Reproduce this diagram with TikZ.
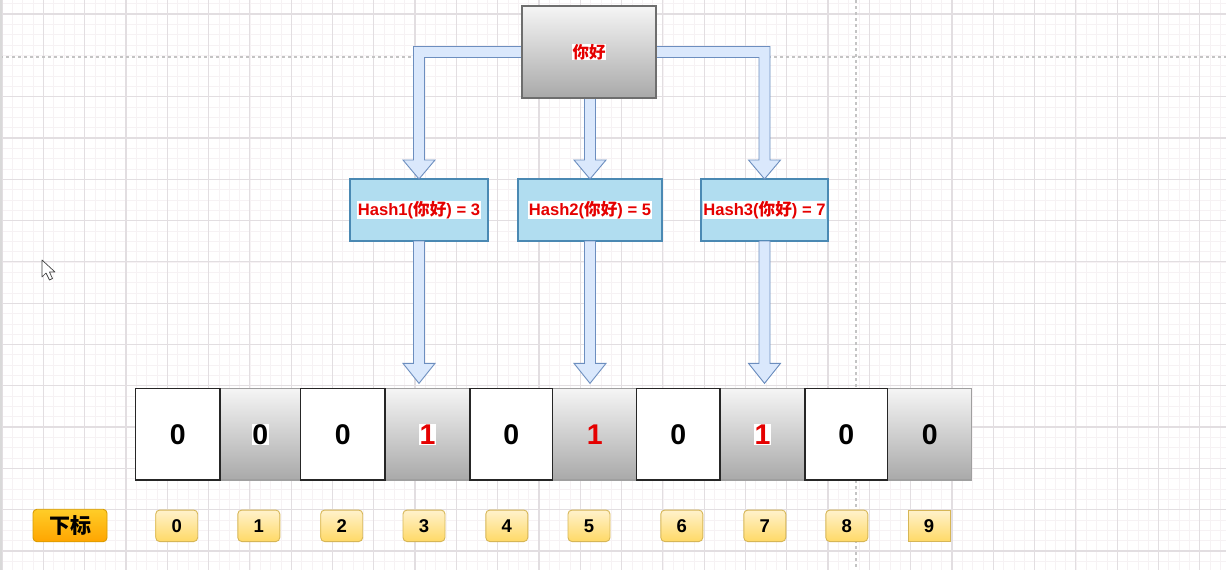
\documentclass[tikz,border=0pt]{standalone}
\usepackage{fontspec}
\setmainfont{Liberation Sans}
\newfontfamily\cjk{Noto Sans CJK SC}
\usetikzlibrary{calc}
\definecolor{gminor}{HTML}{F6F2F4}
\definecolor{gmajor}{HTML}{E2DEE1}
\definecolor{gdash}{HTML}{C4C4C4}
\definecolor{bfill}{HTML}{DAE8FC}
\definecolor{bdraw}{HTML}{6C8EBF}
\definecolor{hfill}{HTML}{B1DDF0}
\definecolor{hdraw}{HTML}{4A89B3}
\definecolor{gtop}{HTML}{F5F5F5}
\definecolor{gbot}{HTML}{A9A9A9}
\definecolor{gdraw}{HTML}{6E6E6E}
\definecolor{ytop}{HTML}{FFF2CC}
\definecolor{ybot}{HTML}{FFD966}
\definecolor{ydraw}{HTML}{D6B656}
\definecolor{otop}{HTML}{FFCD28}
\definecolor{obot}{HTML}{FFA500}
\definecolor{odraw}{HTML}{D79B00}
\definecolor{redtxt}{HTML}{E50000}
\newcommand\hlt[1]{{\setlength{\fboxsep}{0.6pt}\colorbox{white}{#1}}}
\newcommand\nh{{\cjk\bfseries 你好}}
\begin{document}
\begin{tikzpicture}[x=1pt,y=-1pt,
  nodebase/.style={inner sep=0pt, outer sep=0pt, font=\bfseries, align=center},
  graybox/.style={nodebase, draw=gdraw, top color=gtop, bottom color=gbot, line width=1.2pt},
  hashbox/.style={nodebase, draw=hdraw, fill=hfill, line width=1.2pt, minimum height=62, text=redtxt, font=\bfseries\fontsize{16.6}{18}\selectfont},
  cellwhite/.style={nodebase, draw=black!85, fill=white, line width=1.2pt, minimum height=91.7, font=\bfseries\fontsize{28.5}{30}\selectfont},
  cellgray/.style={graybox, draw=gray!75, minimum height=91.7, font=\bfseries\fontsize{28.5}{30}\selectfont},
  idxbox/.style={nodebase, draw=ydraw, top color=ytop, bottom color=ybot, rounded corners=4pt, minimum width=42, minimum height=31.5, line width=0.9pt, font=\bfseries\fontsize{18.5}{20}\selectfont},
  labbox/.style={nodebase, draw=odraw, top color=otop, bottom color=obot, rounded corners=4pt, line width=0.9pt, font=\bfseries\fontsize{21}{23}\selectfont},
  blockarrow/.style={fill=bfill, draw=bdraw, line width=0.9pt, line join=miter},
  minorline/.style={gminor, line width=0.5pt},
  majorline/.style={gmajor, line width=1.2pt},
  pagebreak/.style={gdash, line width=1.1pt, dash pattern=on 3pt off 3pt}]
\useasboundingbox (0,0) rectangle (1226,570);
\fill[white] (0,0) rectangle (1226,570);
% grid
\foreach \i in {0,...,119} \draw[minorline] (2+\i*10.325,0) -- (2+\i*10.325,570);
\foreach \i in {0,...,55} \draw[minorline] (0,3.675+\i*10.325) -- (1226,3.675+\i*10.325);
\foreach \i in {0,...,29} \draw[majorline] (2+\i*41.3,0) -- (2+\i*41.3,570);
\foreach \i in {0,2,3,...,13} \draw[majorline] (0,14+\i*41.3) -- (1226,14+\i*41.3);
\draw[pagebreak] (0,57) -- (1226,57);
\draw[pagebreak] (856,0) -- (856,570);
\draw[gray!30, line width=2pt] (1,0) -- (1,570);
% cursor
\draw[black!75, fill=white, line width=0.7pt, line join=round]
  (42,260) -- (42,277) -- (46,273) -- (49.5,280) -- (52.5,278.5) -- (49.5,272) -- (55,272) -- cycle;

% nodes
\node[graybox, text=redtxt, minimum width=134, minimum height=92, font=\bfseries\fontsize{16.5}{18}\selectfont] (top) at (589,52) {\hlt{\nh}};
\node[hashbox, minimum width=138] (h1) at (419,210) {\hlt{Hash1(\nh) = 3}};
\node[hashbox, minimum width=144] (h2) at (590,210) {\hlt{Hash2(\nh) = 5}};
\node[hashbox, minimum width=127] (h3) at (764.5,210) {\hlt{Hash3(\nh) = 7}};

% array cells
\node[cellwhite, minimum width=84.5] (c0) at (177.75,434.2) {0};
\node[cellgray,  minimum width=80.7] (c1) at (260.35,434.2) {\hlt{0}};
\node[cellwhite, minimum width=84.3] (c2) at (342.85,434.2) {0};
\node[cellgray,  minimum width=85,  text=redtxt] (c3) at (427.5,434.2) {\hlt{1}};
\node[cellwhite, minimum width=82.7] (c4) at (511.35,434.2) {0};
\node[cellgray,  minimum width=84,  text=redtxt] (c5) at (594.7,434.2) {1};
\node[cellwhite, minimum width=83.3] (c6) at (678.35,434.2) {0};
\node[cellgray,  minimum width=85,  text=redtxt] (c7) at (762.5,434.2) {\hlt{1}};
\node[cellwhite, minimum width=82.7] (c8) at (846.35,434.2) {0};
\node[cellgray,  minimum width=84] (c9) at (929.7,434.2) {0};
% redraw white cell borders on top
\foreach \c in {c0,c2,c4,c6,c8} \draw[black!85, line width=1.2pt] (\c.north west) rectangle (\c.south east);

% index labels
\node[labbox, minimum width=74, minimum height=32.5] (lab) at (70,525.5) {\cjk\bfseries 下标};
\node[idxbox] (i0) at (176.7,525.8) {0};
\node[idxbox] (i1) at (258.8,525.8) {1};
\node[idxbox] (i2) at (341.7,525.8) {2};
\node[idxbox] (i3) at (424,525.8) {3};
\node[idxbox] (i4) at (506.8,525.8) {4};
\node[idxbox] (i5) at (589,525.8) {5};
\node[idxbox] (i6) at (681.8,525.8) {6};
\node[idxbox] (i7) at (764.8,525.8) {7};
\node[idxbox] (i8) at (846.8,525.8) {8};
\node[idxbox, rounded corners=0pt] (i9) at (929,525.8) {9};

% block arrows: top -> hash boxes
\draw[blockarrow] let \p1=(top.west), \p2=(h1.north) in
  (\x1,\y1+5.5pt) -- (\x2-5.5pt,\y1+5.5pt) -- (\x2-5.5pt,\y2+19pt) -- (\x2-16pt,\y2+19pt)
  -- (\x2,\y2) -- (\x2+16pt,\y2+19pt) -- (\x2+5.5pt,\y2+19pt) -- (\x2+5.5pt,\y1-5.5pt) -- (\x1,\y1-5.5pt) -- cycle;
\draw[blockarrow] let \p1=(top.east), \p2=(h3.north) in
  (\x1,\y1+5.5pt) -- (\x2+5.5pt,\y1+5.5pt) -- (\x2+5.5pt,\y2+19pt) -- (\x2+16pt,\y2+19pt)
  -- (\x2,\y2) -- (\x2-16pt,\y2+19pt) -- (\x2-5.5pt,\y2+19pt) -- (\x2-5.5pt,\y1-5.5pt) -- (\x1,\y1-5.5pt) -- cycle;
\draw[blockarrow] let \p1=(top.south), \p2=(h2.north) in
  (\x2-5.5pt,\y1) -- (\x2-5.5pt,\y2+19pt) -- (\x2-16pt,\y2+19pt) -- (\x2,\y2)
  -- (\x2+16pt,\y2+19pt) -- (\x2+5.5pt,\y2+19pt) -- (\x2+5.5pt,\y1) -- cycle;
% block arrows: hash boxes -> cells
\foreach \s/\d in {h1/c3, h2/c5, h3/c7}{
  \draw[blockarrow] let \p1=(\s.south), \p2=(\d.north) in
    (\x1-5.5pt,\y1) -- (\x1-5.5pt,\y2+25pt) -- (\x1-16pt,\y2+25pt) -- (\x1,\y2+5pt)
    -- (\x1+16pt,\y2+25pt) -- (\x1+5.5pt,\y2+25pt) -- (\x1+5.5pt,\y1) -- cycle;
}
% redraw boxes over arrow stubs
\node[graybox, text=redtxt, minimum width=134, minimum height=92, font=\bfseries\fontsize{16.5}{18}\selectfont] at (top) {\hlt{\nh}};
\end{tikzpicture}
\end{document}
